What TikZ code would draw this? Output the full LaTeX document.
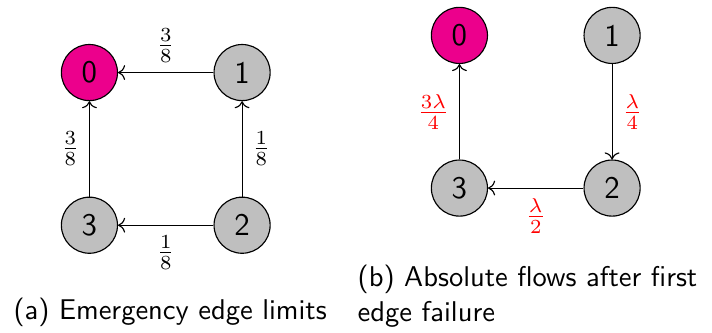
\documentclass[tikz,border=0pt]{standalone}
\usetikzlibrary{arrows.meta,positioning}
\definecolor{sinkpink}{RGB}{236,0,140}

\begin{document}
\begin{tikzpicture}[
    >=To,
    font=\sffamily,
    vertex/.style={circle,draw,fill=gray!50,minimum size=6.9mm,inner sep=0pt,
      font=\sffamily\fontsize{11}{13}\selectfont},
    sink/.style={vertex,fill=sinkpink},
    arr/.style={->,line width=0.4pt},
    flow/.style={text=red}
  ]
    \useasboundingbox (0,0) rectangle (249.2pt,-116.55pt);

    % (a): emergency edge limits
    \node[sink] (a0) at (31.3pt,-25.4pt) {0};
    \node[vertex] (a1) [right=33.4pt of a0] {1};
    \node[vertex] (a3) [below=33.4pt of a0] {3};
    \node[vertex] (a2) [right=33.4pt of a3] {2};
    \draw[arr] (a1) -- node[above] (la10) {$\frac{3}{8}$} (a0);
    \draw[arr] (a3) -- node[left] (la30) {$\frac{3}{8}$} (a0);
    \draw[arr] (a2) -- node[right] (la21) {$\frac{1}{8}$} (a1);
    \draw[arr] (a2) -- node[below] (la23) {$\frac{1}{8}$} (a3);
    \node[anchor=base west,inner sep=0pt] (capa) at (4.55pt,-112pt)
      {(a) Emergency edge limits};

    % (b): flows after the first failure
    \node[sink] (b0) at (160.8pt,-12.4pt) {0};
    \node[vertex] (b1) [right=33.4pt of b0] {1};
    \node[vertex] (b3) [below=33.4pt of b0] {3};
    \node[vertex] (b2) [right=33.4pt of b3] {2};
    \draw[arr] (b1) -- node[right,flow] (lb12) {$\frac{\lambda}{4}$} (b2);
    \draw[arr] (b2) -- node[below,flow] (lb23) {$\frac{\lambda}{2}$} (b3);
    \draw[arr] (b3) -- node[left,flow] (lb30) {$\frac{3\lambda}{4}$} (b0);
    \node[anchor=north west,inner sep=0pt,align=left] (capb) at (125pt,-92.75pt)
      {(b) Absolute flows after first\\edge failure};
  \end{tikzpicture}
\end{document}
